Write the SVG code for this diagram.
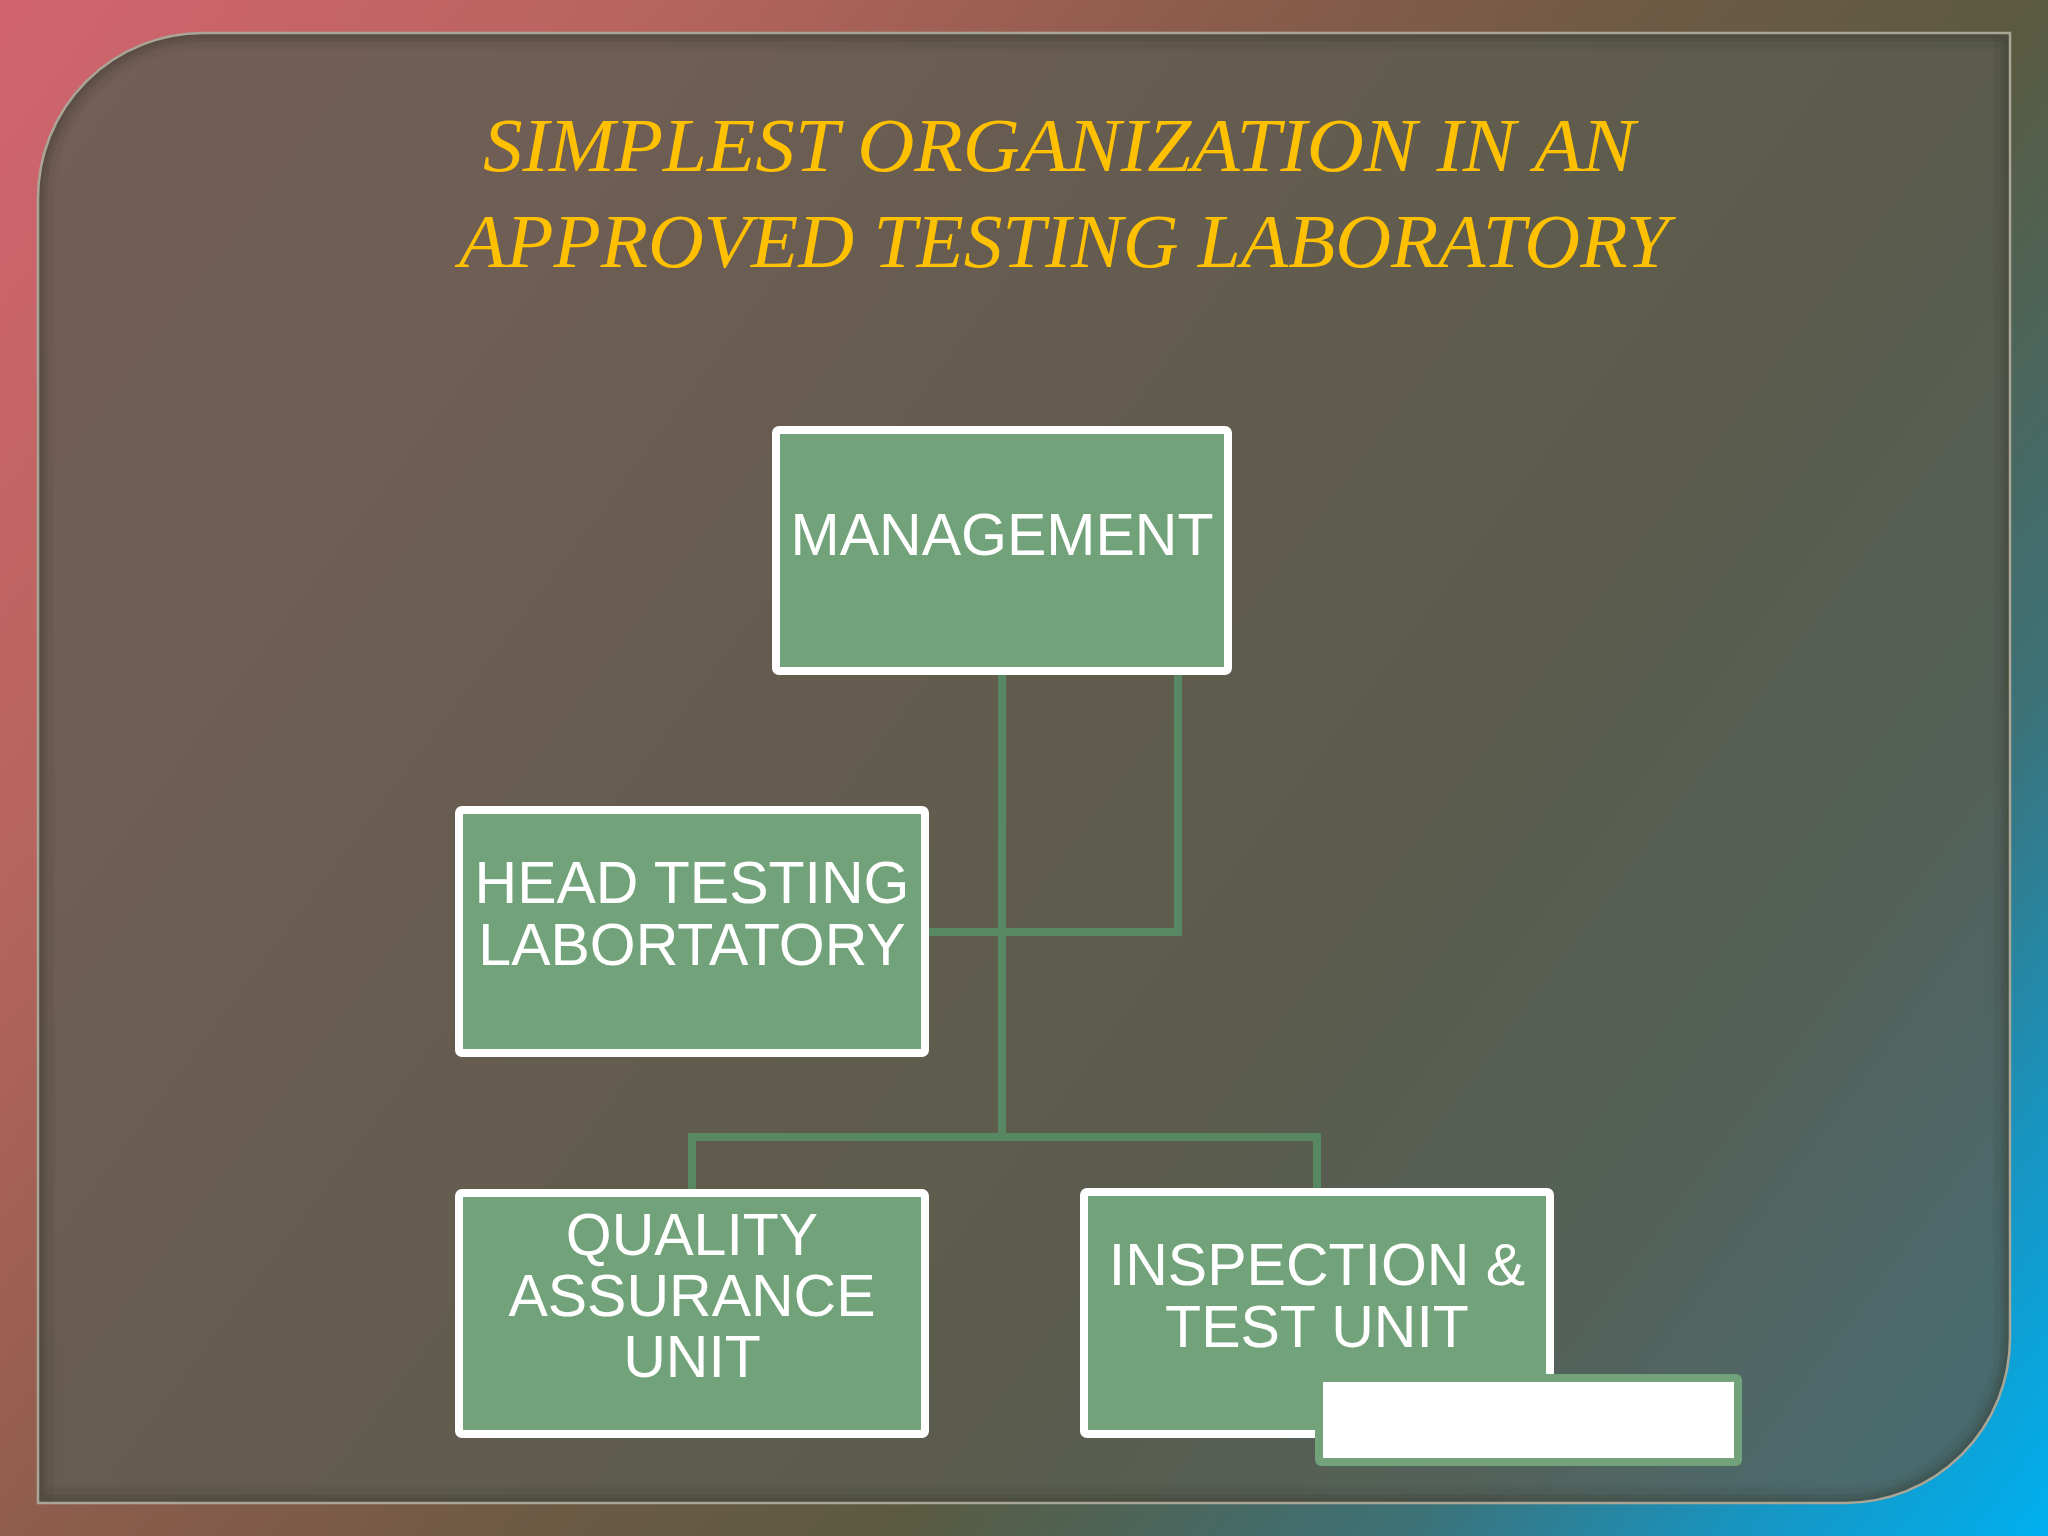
<svg xmlns="http://www.w3.org/2000/svg" width="2048" height="1536" viewBox="0 0 2048 1536">
  <defs>
    <linearGradient id="bg" gradientUnits="userSpaceOnUse" x1="0" y1="0" x2="2048" y2="1536">
      <stop offset="0" stop-color="#d2646f"/>
      <stop offset="0.2" stop-color="#b8645f"/>
      <stop offset="0.38" stop-color="#8c5c4c"/>
      <stop offset="0.52" stop-color="#6e5a44"/>
      <stop offset="0.64" stop-color="#5a5a40"/>
      <stop offset="0.8" stop-color="#3c7278"/>
      <stop offset="0.9" stop-color="#1894c0"/>
      <stop offset="1" stop-color="#00b0f0"/>
    </linearGradient>
    <clipPath id="frameClip">
      <path d="M38,198 A165,165 0 0 1 203,33 H2010 V1338 A165,165 0 0 1 1845,1503 H38 Z"/>
    </clipPath>
    <filter id="soft" x="-5%" y="-5%" width="110%" height="110%">
      <feGaussianBlur stdDeviation="6"/>
    </filter>
    <style>
      .box { fill: #72a279; stroke: #ffffff; stroke-width: 8; }
      .lbl { font-family: "Liberation Sans", Arial, sans-serif; font-size: 59px; fill: #ffffff; text-anchor: middle; }
      .conn { fill: none; stroke: #578862; stroke-width: 8; stroke-linejoin: miter; }
      .title { font-family: "Liberation Serif", "DejaVu Serif", serif; font-style: italic; font-size: 76px; fill: #ffc000; }
    </style>
  </defs>

  <!-- background -->
  <rect x="0" y="0" width="2048" height="1536" fill="url(#bg)"/>

  <!-- frame -->
  <g id="frame">
    <path d="M38,198 A165,165 0 0 1 203,33 H2010 V1338 A165,165 0 0 1 1845,1503 H38 Z" fill="#5b5c51" fill-opacity="0.78"/>
    <g clip-path="url(#frameClip)">
      <path d="M38,198 A165,165 0 0 1 203,33 H2010 V1338 A165,165 0 0 1 1845,1503 H38 Z" fill="none" stroke="#2a2a24" stroke-opacity="0.45" stroke-width="14" filter="url(#soft)"/>
    </g>
    <path d="M38,198 A165,165 0 0 1 203,33 H2010 V1338 A165,165 0 0 1 1845,1503 H38 Z" fill="none" stroke="#aaa696" stroke-width="2.5"/>
  </g>

  <!-- title -->
  <g id="title">
    <text class="title" x="483" y="171" textLength="1152" lengthAdjust="spacingAndGlyphs">SIMPLEST ORGANIZATION IN AN</text>
    <text class="title" x="459" y="267" textLength="1210" lengthAdjust="spacingAndGlyphs">APPROVED TESTING LABORATORY</text>
  </g>

  <!-- connectors -->
  <g id="connectors">
    <path class="conn" d="M1002,675 V1137"/>
    <path class="conn" d="M929,932 H1178 V675"/>
    <path class="conn" d="M692,1189 V1137 H1317 V1188"/>
  </g>

  <!-- nodes -->
  <g id="node-management">
    <rect class="box" x="776" y="430" width="452" height="241" rx="3"/>
    <text class="lbl" x="1002" y="555">MANAGEMENT</text>
  </g>

  <g id="node-head-testing">
    <rect class="box" x="459" y="810" width="466" height="243" rx="3"/>
    <text class="lbl" x="692" y="903">HEAD TESTING</text>
    <text class="lbl" x="692" y="965">LABORTATORY</text>
  </g>

  <g id="node-quality">
    <rect class="box" x="459" y="1193" width="466" height="241" rx="3"/>
    <text class="lbl" x="692" y="1255">QUALITY</text>
    <text class="lbl" x="692" y="1316">ASSURANCE</text>
    <text class="lbl" x="692" y="1377">UNIT</text>
  </g>

  <g id="node-inspection">
    <rect class="box" x="1084" y="1192" width="466" height="242" rx="3"/>
    <text class="lbl" x="1317" y="1285">INSPECTION &amp;</text>
    <text class="lbl" x="1317" y="1347">TEST UNIT</text>
  </g>

  <g id="node-blank">
    <rect x="1319" y="1378" width="419" height="84" rx="2" fill="#ffffff" stroke="#72a279" stroke-width="8"/>
  </g>
</svg>
